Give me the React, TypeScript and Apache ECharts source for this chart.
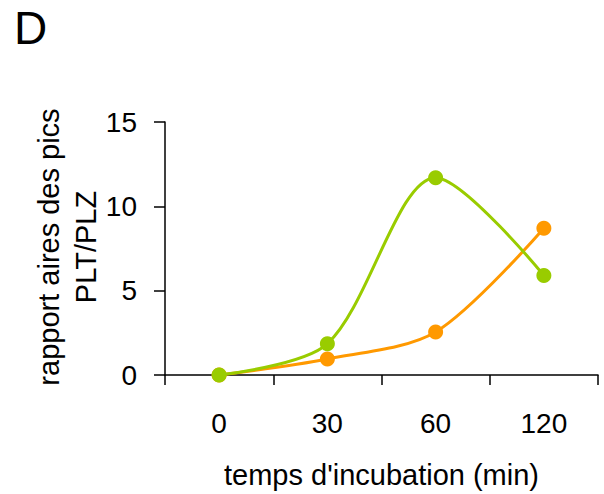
import React, { useEffect, useRef } from "react";
import * as echarts from "echarts";

const categories = ["0", "30", "60", "120"];
const greenValues = [0, 1.85, 11.7, 5.9];
const orangeValues = [0, 0.95, 2.55, 8.7];
const yTicks = { min: 0, max: 15, interval: 5 };
const panelLabel = "D";
const yName = "rapport aires des pics\nPLT/PLZ";
const xName = "temps d'incubation (min)";

const FONT = "'Liberation Sans', Arial, sans-serif";

export default function App() {
  const ref = useRef<HTMLDivElement>(null);
  useEffect(() => {
    if (!ref.current) return;
    const chart = echarts.init(ref.current, undefined, { renderer: "svg" });
    chart.setOption({
      animation: false,
      backgroundColor: "#ffffff",
      textStyle: { fontFamily: FONT },
      grid: { left: 165, right: 6, top: 122, bottom: 119, containLabel: false },
      graphic: [
        {
          type: "text",
          left: 14,
          top: 5,
          style: { text: panelLabel, fontSize: 46, fontFamily: FONT, fill: "#000" },
        },
        {
          type: "text",
          x: 67,
          y: 247,
          rotation: Math.PI / 2,
          style: {
            text: yName,
            fontSize: 29,
            lineHeight: 37,
            fontFamily: FONT,
            fill: "#000",
            align: "center",
            verticalAlign: "middle",
          },
        },
      ],
      xAxis: {
        type: "category",
        data: categories,
        boundaryGap: true,
        name: xName,
        nameLocation: "middle",
        nameGap: 85,
        nameTextStyle: { fontSize: 29, color: "#000", fontFamily: FONT },
        axisLine: { lineStyle: { color: "#000", width: 1.5 } },
        axisTick: { show: true, inside: false, length: 10, lineStyle: { color: "#000", width: 1.5 } },
        axisLabel: { fontSize: 28, color: "#000", margin: 34, fontFamily: FONT },
        splitLine: { show: false },
      },
      yAxis: {
        type: "value",
        min: yTicks.min,
        max: yTicks.max,
        interval: yTicks.interval,
        axisLine: { show: true, lineStyle: { color: "#000", width: 1.5 } },
        axisTick: { show: true, inside: false, length: 11, lineStyle: { color: "#000", width: 1.5 } },
        axisLabel: { fontSize: 28, color: "#000", margin: 28, fontFamily: FONT },
        splitLine: { show: false },
      },
      series: [
        {
          type: "line",
          data: orangeValues,
          smooth: 0.3,
          symbol: "circle",
          symbolSize: 15,
          itemStyle: { color: "#FF9900" },
          lineStyle: { color: "#FF9900", width: 3 },
          z: 2,
        },
        {
          type: "line",
          data: greenValues,
          smooth: 0.3,
          symbol: "circle",
          symbolSize: 15,
          itemStyle: { color: "#99CC00" },
          lineStyle: { color: "#99CC00", width: 3 },
          z: 3,
        },
      ],
    });
    return () => chart.dispose();
  }, []);
  return (
    <div
      ref={ref}
      style={{ position: "fixed", left: 0, top: 0, width: 604, height: 494, background: "#fff" }}
    />
  );
}
